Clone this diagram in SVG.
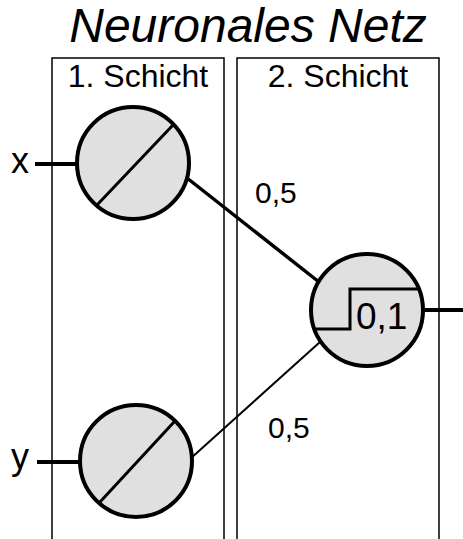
<svg xmlns="http://www.w3.org/2000/svg" width="463" height="539" viewBox="0 0 463 539">
<style>
text{font-family:"Liberation Sans",Arial,sans-serif;fill:#000}
.box{fill:none;stroke:#000;stroke-width:1.5}
.neuron{fill:#e0e0e0;stroke:#000;stroke-width:4}
.inner{fill:none;stroke:#000;stroke-width:3}
.io{stroke:#000;stroke-width:4;fill:none}
</style>
<rect width="463" height="539" fill="#fff"/>
<text x="248" y="42" font-size="48" font-style="italic" text-anchor="middle">Neuronales Netz</text>
<g id="layer1">
<path class="box" d="M52,545 V58 H224 V545"/>
<text x="138" y="87" font-size="32" text-anchor="middle">1. Schicht</text>
</g>
<g id="layer2">
<path class="box" d="M237,545 V58 H439 V545"/>
<text x="338" y="87" font-size="32" text-anchor="middle">2. Schicht</text>
</g>
<g id="connectors">
<line class="io" x1="35" y1="164" x2="77" y2="164"/>
<line class="io" x1="37" y1="462" x2="80" y2="462"/>
<line x1="187" y1="178" x2="319" y2="282" stroke="#000" stroke-width="3.5"/>
<line x1="190" y1="459" x2="320" y2="342" stroke="#000" stroke-width="2"/>
<line class="io" x1="423" y1="310" x2="463" y2="310"/>
<text x="255" y="203" font-size="30">0,5</text>
<text x="268" y="438" font-size="30">0,5</text>
</g>
<g id="x">
<text x="29" y="173" font-size="36" text-anchor="end">x</text>
</g>
<g id="y">
<text x="29" y="469" font-size="36" text-anchor="end">y</text>
</g>
<g id="n1">
<circle class="neuron" cx="133" cy="163" r="56"/>
<line class="inner" x1="97" y1="205" x2="173" y2="125"/>
</g>
<g id="n2">
<circle class="neuron" cx="136" cy="461" r="56"/>
<line class="inner" x1="100" y1="502" x2="174" y2="422"/>
</g>
<g id="n3">
<circle class="neuron" cx="367" cy="310" r="56"/>
<path class="inner" d="M315,329 H350 V289 H418"/>
<text x="356" y="329" font-size="37">0,1</text>
</g>
</svg>
